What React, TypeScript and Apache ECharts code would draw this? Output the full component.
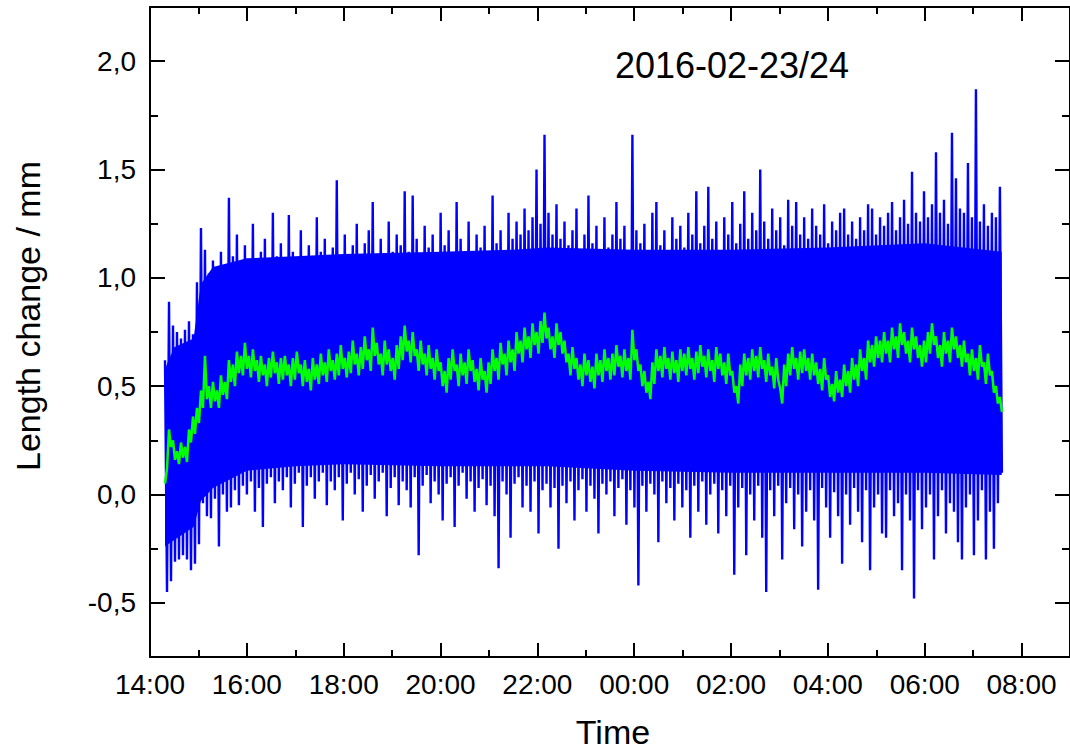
import React, { useEffect, useRef } from "react";
import * as echarts from "echarts";

const TITLE = "2016-02-23/24";
const X_TITLE = "Time";
const Y_TITLE = "Length change / mm";

// Time axis in hours after 14:00 on 2016-02-23; the run ends before 09:00 next day.
const X_MIN = 0;
const X_MAX = 19;
const Y_MIN = -0.75;
const Y_MAX = 2.25;

// Sampling grid of the recorded signal (hours after 14:00)
const START_H = 0.31;
const STEP_H = 0.0825;

// Raw signal: successive maxima of each sampling step (mm)
const RAW_HIGH = [
  0.62, 0.89, 0.78, 0.75, 0.72, 0.76, 0.80, 0.74, 0.98, 1.23,
  1.13, 1.02, 1.08, 1.05, 1.12, 1.00, 1.37, 1.10, 1.20, 1.06,
  1.15, 1.08, 1.25, 1.04, 1.12, 1.18, 1.07, 1.30, 1.10, 1.16,
  1.05, 1.29, 1.12, 1.08, 1.22, 1.10, 1.15, 1.06, 1.28, 1.12,
  1.18, 1.08, 1.14, 1.45, 1.10, 1.20, 1.06, 1.15, 1.25, 1.09,
  1.16, 1.22, 1.35, 1.10, 1.18, 1.08, 1.26, 1.12, 1.20, 1.15,
  1.40, 1.12, 1.38, 1.18, 1.10, 1.24, 1.14, 1.20, 1.08, 1.30,
  1.15, 1.22, 1.10, 1.35, 1.18, 1.12, 1.26, 1.09, 1.20, 1.14,
  1.24, 1.12, 1.38, 1.16, 1.22, 1.10, 1.30, 1.18, 1.26, 1.20,
  1.32, 1.22, 1.28, 1.50, 1.25, 1.66, 1.30, 1.20, 1.34, 1.18,
  1.26, 1.15, 1.22, 1.32, 1.12, 1.20, 1.38, 1.16, 1.24, 1.10,
  1.28, 1.14, 1.20, 1.35, 1.18, 1.24, 1.12, 1.66, 1.22, 1.16,
  1.25, 1.10, 1.30, 1.35, 1.15, 1.22, 1.12, 1.28, 1.18, 1.24,
  1.14, 1.30, 1.20, 1.40, 1.16, 1.24, 1.42, 1.18, 1.26, 1.12,
  1.28, 1.20, 1.35, 1.16, 1.25, 1.40, 1.18, 1.30, 1.22, 1.50,
  1.26, 1.18, 1.32, 1.22, 1.28, 1.15, 1.36, 1.24, 1.35, 1.20,
  1.28, 1.18, 1.32, 1.24, 1.20, 1.34, 1.16, 1.26, 1.22, 1.30,
  1.32, 1.20, 1.26, 1.18, 1.28, 1.22, 1.34, 1.32, 1.20, 1.28,
  1.24, 1.30, 1.35, 1.22, 1.28, 1.36, 1.25, 1.49, 1.30, 1.26,
  1.40, 1.28, 1.34, 1.58, 1.30, 1.36, 1.25, 1.67, 1.46, 1.32,
  1.30, 1.53, 1.28, 1.87, 1.26, 1.34, 1.24, 1.30, 1.28, 1.42,
];

// Raw signal: successive minima of each sampling step (mm)
const RAW_LOW = [
  -0.45, -0.40, -0.31, -0.30, -0.28, -0.30, -0.35, -0.32, -0.23, -0.04,
  -0.10, -0.11, -0.02, -0.24, 0.00, -0.08, -0.06, 0.02, -0.05, 0.04,
  0.00, 0.06, -0.08, 0.03, -0.15, 0.05, 0.08, -0.04, 0.06, 0.02,
  0.08, -0.06, 0.05, 0.10, -0.15, 0.04, 0.08, -0.02, 0.06, 0.10,
  -0.05, 0.06, 0.02, 0.08, -0.12, 0.05, 0.10, 0.00, 0.07, -0.08,
  0.04, 0.09, -0.02, 0.06, 0.10, -0.10, 0.03, 0.08, -0.05, 0.06,
  0.02, -0.06, 0.08, -0.28, 0.04, 0.09, -0.04, 0.06, 0.00, -0.12,
  0.05, 0.08, -0.15, 0.04, 0.10, -0.02, 0.06, -0.08, 0.03, 0.07,
  -0.05, 0.04, -0.10, -0.34, 0.06, 0.00, -0.20, 0.05, 0.08, -0.06,
  0.04, -0.08, 0.06, -0.18, 0.02, 0.05, -0.06, 0.03, -0.25, 0.04,
  -0.04, 0.06, -0.12, 0.02, 0.07, -0.08, 0.04, -0.02, -0.18, 0.05,
  0.00, 0.06, -0.10, 0.03, 0.07, -0.14, 0.02, -0.06, -0.42, 0.04,
  -0.08, 0.05, 0.00, -0.22, 0.06, -0.04, 0.03, -0.12, 0.05, -0.06,
  0.02, -0.20, 0.04, -0.08, 0.06, -0.14, 0.00, 0.05, -0.18, 0.02,
  -0.10, 0.04, -0.37, -0.06, 0.03, -0.28, 0.00, -0.12, 0.04, -0.20,
  -0.45, 0.02, -0.10, 0.04, -0.30, -0.04, 0.03, -0.16, 0.00, -0.24,
  -0.08, 0.02, -0.12, -0.44, 0.03, -0.06, -0.20, 0.01, -0.10, -0.32,
  0.00, -0.14, 0.03, -0.08, -0.22, 0.02, -0.35, -0.06, 0.00, -0.18,
  -0.20, 0.02, -0.10, -0.04, -0.35, 0.00, -0.12, -0.48, 0.02, -0.16,
  -0.06, 0.00, -0.30, -0.10, 0.02, -0.18, -0.04, -0.08, -0.22, -0.30,
  -0.06, 0.00, -0.28, -0.12, 0.02, -0.30, -0.08, -0.25, -0.04, 0.10,
];

// Range that the raw signal covers densely (mm), at these times (hours after 14:00)
const CORE_HOURS = [0.31, 0.5, 0.9, 1.05, 1.3, 2.0, 3.0, 4.0, 6.0, 7.5, 8.2, 10.0, 12.0, 14.0, 16.0, 17.59];
const CORE_LOW = [-0.24, -0.21, -0.15, -0.03, 0.03, 0.11, 0.13, 0.14, 0.13, 0.13, 0.13, 0.11, 0.10, 0.10, 0.10, 0.09];
const CORE_HIGH = [0.58, 0.68, 0.72, 0.97, 1.05, 1.09, 1.10, 1.11, 1.12, 1.13, 1.14, 1.13, 1.13, 1.14, 1.16, 1.12];

// Smoothed signal, two readings per sampling step (mm)
const SMOOTHED = [
  0.05, 0.12, 0.30, 0.22, 0.25, 0.16, 0.20, 0.14, 0.24, 0.17, 0.22, 0.15, 0.30, 0.24, 0.36, 0.28, 0.40, 0.33, 0.48, 0.40,
  0.64, 0.44, 0.50, 0.40, 0.52, 0.43, 0.48, 0.40, 0.55, 0.46, 0.52, 0.44, 0.62, 0.52, 0.60, 0.50, 0.66, 0.56, 0.64, 0.55,
  0.70, 0.58, 0.64, 0.54, 0.67, 0.57, 0.62, 0.52, 0.64, 0.55, 0.60, 0.50, 0.63, 0.54, 0.66, 0.56, 0.61, 0.51, 0.63, 0.53,
  0.64, 0.55, 0.60, 0.50, 0.63, 0.53, 0.66, 0.56, 0.60, 0.50, 0.62, 0.52, 0.58, 0.48, 0.63, 0.53, 0.60, 0.51, 0.65, 0.55,
  0.61, 0.52, 0.67, 0.57, 0.62, 0.53, 0.65, 0.55, 0.69, 0.58, 0.63, 0.54, 0.66, 0.56, 0.71, 0.60, 0.65, 0.55, 0.68, 0.58,
  0.73, 0.62, 0.67, 0.57, 0.77, 0.64, 0.70, 0.60, 0.65, 0.55, 0.71, 0.60, 0.67, 0.57, 0.63, 0.53, 0.69, 0.58, 0.73, 0.62,
  0.78, 0.66, 0.71, 0.61, 0.75, 0.64, 0.67, 0.57, 0.71, 0.60, 0.65, 0.55, 0.69, 0.58, 0.63, 0.53, 0.67, 0.57, 0.61, 0.50,
  0.57, 0.47, 0.63, 0.53, 0.67, 0.57, 0.60, 0.50, 0.65, 0.55, 0.61, 0.51, 0.67, 0.57, 0.62, 0.52, 0.58, 0.48, 0.63, 0.53,
  0.57, 0.47, 0.61, 0.51, 0.67, 0.57, 0.63, 0.53, 0.70, 0.60, 0.65, 0.55, 0.71, 0.61, 0.67, 0.57, 0.75, 0.65, 0.71, 0.61,
  0.77, 0.67, 0.73, 0.63, 0.79, 0.69, 0.75, 0.65, 0.80, 0.70, 0.84, 0.72, 0.77, 0.67, 0.73, 0.63, 0.79, 0.69, 0.75, 0.65,
  0.71, 0.61, 0.65, 0.55, 0.68, 0.58, 0.63, 0.53, 0.60, 0.50, 0.65, 0.55, 0.62, 0.52, 0.59, 0.49, 0.65, 0.55, 0.62, 0.52,
  0.67, 0.57, 0.63, 0.53, 0.65, 0.55, 0.69, 0.59, 0.64, 0.54, 0.67, 0.57, 0.63, 0.53, 0.76, 0.62, 0.67, 0.57, 0.60, 0.50,
  0.57, 0.47, 0.52, 0.44, 0.61, 0.51, 0.67, 0.57, 0.64, 0.54, 0.68, 0.58, 0.63, 0.53, 0.66, 0.56, 0.62, 0.52, 0.67, 0.57,
  0.65, 0.55, 0.68, 0.58, 0.63, 0.53, 0.66, 0.56, 0.69, 0.59, 0.64, 0.54, 0.67, 0.57, 0.62, 0.52, 0.68, 0.58, 0.65, 0.55,
  0.61, 0.51, 0.65, 0.55, 0.57, 0.47, 0.50, 0.42, 0.60, 0.50, 0.65, 0.55, 0.63, 0.53, 0.67, 0.57, 0.64, 0.54, 0.68, 0.58,
  0.62, 0.52, 0.65, 0.55, 0.59, 0.49, 0.63, 0.53, 0.49, 0.42, 0.60, 0.50, 0.65, 0.55, 0.68, 0.58, 0.63, 0.53, 0.66, 0.56,
  0.67, 0.57, 0.63, 0.53, 0.65, 0.55, 0.61, 0.51, 0.58, 0.48, 0.63, 0.53, 0.55, 0.45, 0.51, 0.43, 0.57, 0.47, 0.53, 0.45,
  0.60, 0.50, 0.57, 0.47, 0.63, 0.53, 0.60, 0.50, 0.67, 0.57, 0.63, 0.53, 0.71, 0.61, 0.69, 0.59, 0.73, 0.63, 0.71, 0.61,
  0.75, 0.65, 0.71, 0.61, 0.77, 0.67, 0.73, 0.63, 0.79, 0.69, 0.75, 0.65, 0.71, 0.61, 0.77, 0.67, 0.73, 0.63, 0.69, 0.59,
  0.71, 0.61, 0.75, 0.65, 0.79, 0.69, 0.73, 0.63, 0.69, 0.59, 0.75, 0.65, 0.71, 0.61, 0.77, 0.67, 0.73, 0.63, 0.69, 0.59,
  0.71, 0.61, 0.65, 0.55, 0.67, 0.57, 0.63, 0.53, 0.69, 0.59, 0.61, 0.51, 0.65, 0.55, 0.57, 0.47, 0.50, 0.42, 0.45, 0.38,
];

const FONT = '"Liberation Sans", Arial, Helvetica, sans-serif';
const INK = "#000000";
const BLUE = "#0000ff";
const GREEN = "#00ff00";

const timeOf = (i: number) => START_H + i * STEP_H;

// Raw trace alternates between the max and the min of each step
const rawData: [number, number][] = [];
RAW_HIGH.forEach((hi, i) => {
  rawData.push([timeOf(i), hi]);
  rawData.push([timeOf(i + 0.5), RAW_LOW[i]]);
});
const smoothData: [number, number][] = SMOOTHED.map((v, k) => [timeOf(k / 2), v]);
const coreData = CORE_HOURS.map((t, i) => [t, CORE_LOW[i], CORE_HIGH[i]]);

const clockLabel = (v: number) => {
  const h = Math.round(14 + v) % 24;
  return (h < 10 ? "0" : "") + h + ":00";
};
const mmLabel = (v: number) => v.toFixed(1).replace(".", ",");

const tickStyle = (len: number) => ({
  show: true,
  inside: true,
  length: len,
  lineStyle: { color: INK, width: 2 },
});

const xAxisBase = (position: "bottom" | "top", labels: boolean) => ({
  type: "value" as const,
  position,
  min: X_MIN,
  max: X_MAX,
  interval: 2,
  axisLine: { show: true, onZero: false, lineStyle: { color: INK, width: 2 } },
  axisTick: tickStyle(14),
  minorTick: { show: true, splitNumber: 2, length: 7, lineStyle: { color: INK, width: 2 } },
  splitLine: { show: false },
  minorSplitLine: { show: false },
  axisLabel: {
    show: labels,
    formatter: clockLabel,
    showMaxLabel: false,
    margin: 13,
    fontSize: 28,
    fontFamily: FONT,
    color: INK,
  },
});

const yAxisBase = (position: "left" | "right", labels: boolean) => ({
  type: "value" as const,
  position,
  min: Y_MIN,
  max: Y_MAX,
  splitNumber: 6,
  minInterval: 0.5,
  maxInterval: 0.5,
  axisLine: { show: true, onZero: false, lineStyle: { color: INK, width: 2 } },
  axisTick: tickStyle(15),
  minorTick: { show: true, splitNumber: 2, length: 8, lineStyle: { color: INK, width: 2 } },
  splitLine: { show: false },
  minorSplitLine: { show: false },
  axisLabel: {
    show: labels,
    formatter: mmLabel,
    showMinLabel: false,
    showMaxLabel: false,
    margin: 14,
    fontSize: 28,
    fontFamily: FONT,
    color: INK,
  },
});

export default function App() {
  const ref = useRef<HTMLDivElement>(null);

  useEffect(() => {
    if (!ref.current) return;
    const chart = echarts.init(ref.current, undefined, { renderer: "svg" });
    chart.setOption({
      animation: false,
      backgroundColor: "#ffffff",
      grid: { left: 150, right: -8, top: 7, bottom: 93, containLabel: false },
      xAxis: [xAxisBase("bottom", true), xAxisBase("top", false)],
      yAxis: [yAxisBase("left", true), yAxisBase("right", false)],
      graphic: [
        {
          type: "text",
          x: 732,
          y: 65,
          style: {
            text: TITLE,
            fontSize: 36,
            fontFamily: FONT,
            fill: INK,
            align: "center",
            verticalAlign: "middle",
          },
        },
        {
          type: "text",
          x: 613,
          y: 732,
          style: {
            text: X_TITLE,
            fontSize: 34,
            fontFamily: FONT,
            fill: INK,
            align: "center",
            verticalAlign: "middle",
          },
        },
        {
          type: "text",
          x: 28,
          y: 316,
          rotation: Math.PI / 2,
          style: {
            text: Y_TITLE,
            fontSize: 34,
            fontFamily: FONT,
            fill: INK,
            align: "center",
            verticalAlign: "middle",
          },
        },
      ],
      series: [
        {
          // dense band of the raw signal, drawn as one polygon
          type: "custom",
          data: coreData,
          encode: { x: 0, y: [1, 2] },
          silent: true,
          z: 1,
          renderItem: (params: any, api: any) => {
            if (params.dataIndex !== 0) return null;
            const upper = CORE_HOURS.map((t, i) => api.coord([t, CORE_HIGH[i]]));
            const lower = CORE_HOURS.map((t, i) => api.coord([t, CORE_LOW[i]])).reverse();
            return {
              type: "polygon",
              shape: { points: upper.concat(lower) },
              style: { fill: BLUE },
            };
          },
        },
        {
          type: "line",
          data: rawData,
          showSymbol: false,
          symbol: "none",
          lineStyle: { color: BLUE, width: 2.4 },
          z: 2,
        },
        {
          type: "line",
          data: smoothData,
          showSymbol: false,
          symbol: "none",
          lineStyle: { color: GREEN, width: 2.5 },
          z: 3,
        },
      ],
    });
    return () => chart.dispose();
  }, []);

  return (
    <div
      ref={ref}
      style={{ position: "fixed", left: 0, top: 0, width: 1070, height: 750, background: "#fff" }}
    />
  );
}
